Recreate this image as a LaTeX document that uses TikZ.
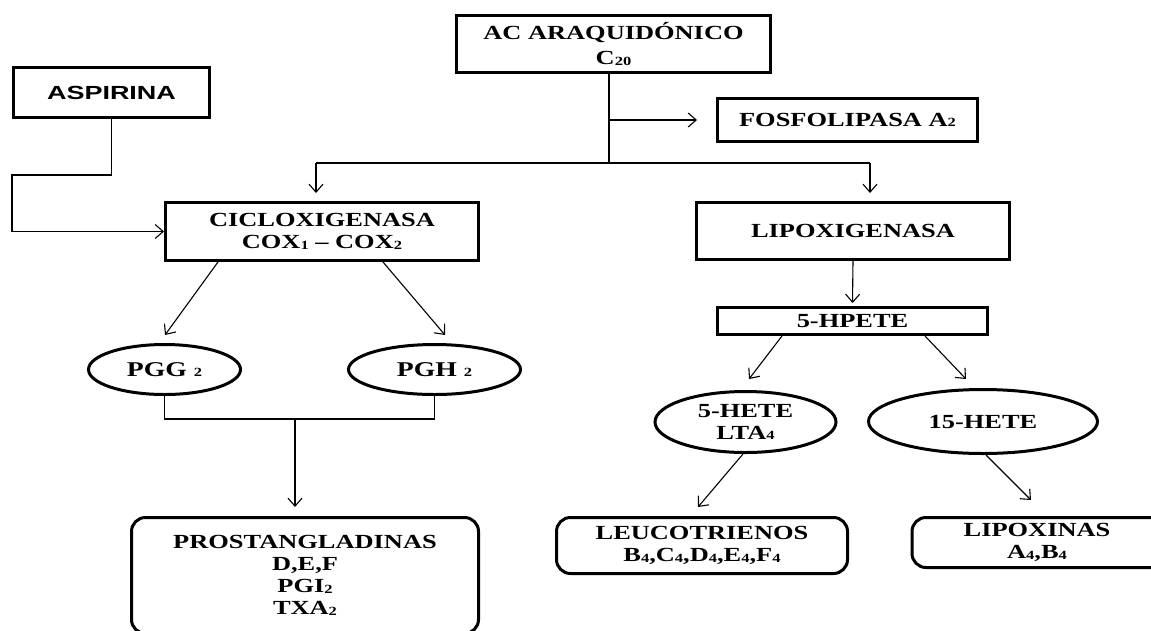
\documentclass[tikz,border=0pt]{standalone}
\usepackage{fontspec}
\newfontfamily\serifw{Liberation Serif}[FakeStretch=1.32]
\newfontfamily\sansw{Liberation Sans}[FakeStretch=1.42]
\usetikzlibrary{shapes.geometric,arrows.meta}
\newcommand\sbs[1]{\raisebox{-0.5pt}{\fontsize{12.5}{12}\selectfont #1}}
\tikzset{
  box/.style={draw, line width=3pt, rectangle, inner sep=0pt, align=center,
    font=\serifw\bfseries\fontsize{20}{22}\selectfont},
  rbox/.style={box, rounded corners=14pt},
  ell/.style={draw, line width=3pt, ellipse, inner sep=0pt, align=center,
    font=\serifw\bfseries\fontsize{20}{22}\selectfont},
  border/.style={line width=3pt, rounded corners=14pt},
  conn/.style={line width=1.1pt},
  arr/.style={conn, -{Straight Barb[length=8pt,width=14pt]}}
}
\begin{document}
\begin{tikzpicture}[x=1pt,y=-1pt]
\useasboundingbox (0,0) rectangle (1151,630);
\fill[white] (0,0) rectangle (1151,630);
\clip (0,0) rectangle (1151,630);
% nodes
\node[box, font=\serifw\bfseries\fontsize{20}{25}\selectfont, minimum width=314pt, minimum height=57pt] (ac) at (613.5,44) {AC ARAQUIDÓNICO\\C\sbs{20}};
\node[box, minimum width=260pt, minimum height=43pt] (fos) at (847.5,120) {FOSFOLIPASA A\sbs{2}};
\node[box, font=\sansw\bfseries\fontsize{19}{22}\selectfont, minimum width=196pt, minimum height=50pt] (asp) at (111.5,92.5) {ASPIRINA};
\node[box, minimum width=313pt, minimum height=58pt] (cic) at (322,231.5) {CICLOXIGENASA\\COX\sbs{1} – COX\sbs{2}};
\node[box, minimum width=313pt, minimum height=57pt] (lip) at (853,231) {LIPOXIGENASA};
\node[ell, font=\serifw\bfseries\fontsize{21}{22}\selectfont, minimum width=152pt, minimum height=50pt] (pgg) at (164.5,369.5) {PGG \sbs{2}};
\node[ell, font=\serifw\bfseries\fontsize{21}{22}\selectfont, minimum width=172pt, minimum height=50pt] (pgh) at (434.5,369.5) {PGH \sbs{2}};
\node[rbox, minimum width=347pt, minimum height=116pt] (pros) at (305,575.5) {PROSTANGLADINAS\\D,E,F\\PGI\sbs{2}\\TXA\sbs{2}};
\node[box, minimum width=270pt, minimum height=27pt] (hpete) at (852.5,321) {5-HPETE};
\node[ell, minimum width=181pt, minimum height=61pt] (h5) at (745.5,422) {5-HETE\\LTA\sbs{4}};
\node[ell, minimum width=229pt, minimum height=64pt] (h15) at (983,421.5) {15-HETE};
\node[rbox, minimum width=291pt, minimum height=56pt] (leu) at (702,545.5) {LEUCOTRIENOS\\B\sbs{4},C\sbs{4},D\sbs{4},E\sbs{4},F\sbs{4}};
\node[rbox, draw=none, minimum width=250pt, minimum height=50pt] (lpx) at (1037,542.5) {LIPOXINAS\\A\sbs{4},B\sbs{4}};
% border of the box cut by the right edge of the picture
\draw[border] ([xshift=40pt,yshift=-1.5pt]lpx.north east) -- ([xshift=1.5pt,yshift=-1.5pt]lpx.north west)
  -- ([xshift=1.5pt,yshift=1.5pt]lpx.south west) -- ([xshift=40pt,yshift=1.5pt]lpx.south east);
% junction coordinates
\coordinate (j) at (609,163);
\coordinate (jf) at (609,120);
\coordinate (cl) at (316,163);
\coordinate (cr) at (870,163);
\coordinate (ak) at (12,175);
\coordinate (m) at (295,419);
% connectors
\draw[conn] (ac.south -| j) -- (j);
\draw[arr] (jf) -- ([xshift=-19pt]fos.west);
\draw[conn] (cl) -- (cr);
\draw[arr] (cl) -- ++(0,30);
\draw[arr] (cr) -- ++(0,30);
\draw[arr] (asp.south) |- (ak) |- (cic.west);
\draw[arr] ([xshift=-104pt]cic.south) -- ([xshift=0.5pt,yshift=8pt]pgg.north);
\draw[arr] ([xshift=61pt]cic.south) -- ([xshift=10.5pt,yshift=8pt]pgh.north);
\draw[conn] (pgg.south) -- ++(0,23) -| (pgh.south);
\draw[arr] (m) -- ++(0,88);
\draw[arr] (lip.south) -- ([yshift=3pt]hpete.north);
\draw[arr] ([xshift=-70.5pt]hpete.south) -- ([xshift=3.5pt,yshift=11pt]h5.north);
\draw[arr] ([xshift=72.5pt]hpete.south) -- ([xshift=-17pt,yshift=9pt]h15.north);
\draw[arr] ([xshift=-2.5pt]h5.south) -- ([xshift=-4pt,yshift=9pt]leu.north);
\draw[arr] ([xshift=3pt]h15.south) -- ([xshift=-6pt,yshift=16pt]lpx.north);
\end{tikzpicture}
\end{document}
